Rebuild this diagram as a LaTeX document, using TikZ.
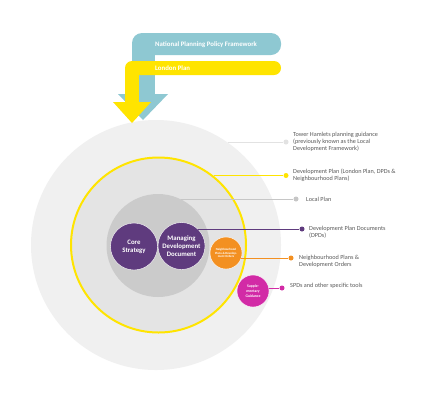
\documentclass[tikz,border=0pt]{standalone}
\usepackage{fontspec}
\setmainfont{Carlito}
\definecolor{npblue}{HTML}{8EC8D2}
\definecolor{lpyellow}{HTML}{FFE400}
\definecolor{outergrey}{HTML}{F0F0F0}
\definecolor{ringgrey}{HTML}{E4E4E4}
\definecolor{innergrey}{HTML}{CBCBCB}
\definecolor{lightline}{HTML}{E2E2E2}
\definecolor{midline}{HTML}{C6C6C6}
\definecolor{dpurple}{HTML}{5F3B7E}
\definecolor{norange}{HTML}{F39021}
\definecolor{smagenta}{HTML}{D22BA6}
\definecolor{txtgrey}{HTML}{595959}
\begin{document}
\begin{tikzpicture}[x=1pt,y=-1pt,
  blob/.style={circle,inner sep=0pt,outer sep=0pt},
  docdot/.style={circle,inner sep=0pt,minimum size=5pt,fill=#1},
  label/.style={anchor=west,align=left,text=txtgrey,font=\fontsize{6.2}{7.2}\selectfont,inner sep=0pt},
  intext/.style={text=white,align=center,font=\fontsize{6.8}{8}\selectfont\bfseries,inner sep=0pt},
  conn/.style={line width=0.9pt,draw=#1}]
\useasboundingbox (0,0) rectangle (435,400);
\fill[white] (0,0) rectangle (435,400);
% circles
\node[blob,fill=outergrey,minimum size=250pt] (outer) at (156,245) {};
\node[blob,fill=ringgrey,draw=lpyellow,line width=2pt,minimum size=175pt] (devplan) at (158.5,245) {};
\node[blob,fill=innergrey,minimum size=103pt] (localplan) at (158,245.5) {};
\node[blob,fill=dpurple,draw=white,line width=0.4pt,minimum size=47pt] (core) at (134,246.5) {};
\node[blob,fill=dpurple,draw=white,line width=0.4pt,minimum size=47pt] (mdd) at (181.5,246) {};
\node[intext] at (core) {Core\\Strategy};
\node[intext] at (mdd) {Managing\\Development\\Document};
\node[blob,fill=norange,draw=white,line width=0.4pt,minimum size=32pt] (nporb) at (226,253) {};
\node[intext,font=\fontsize{3.1}{3.8}\selectfont\bfseries] at (nporb) {Neighbourhood\\Plans \& Develop-\\ment Orders};
\node[blob,fill=smagenta,draw=white,line width=0.4pt,minimum size=32pt] (spdorb) at (253,291) {};
\node[intext,font=\fontsize{3.8}{5}\selectfont\bfseries] at (spdorb) {Supple-\\mentary\\Guidance};
% arrows from top
\fill[npblue,rounded corners=10pt] (132,33) rectangle (281,55);
\fill[npblue] (132,44) rectangle (155,95);
\fill[npblue] (118,94) -- (168,94) -- (143,120) -- cycle;
\node[anchor=west,text=white,font=\fontsize{6.8}{8}\selectfont\bfseries,inner sep=0pt] (nppf) at (155,45) {National Planning Policy Framework};
\fill[lpyellow,rounded corners=7pt] (125,61) rectangle (281,75);
\fill[lpyellow] (125,68) rectangle (139,103);
\fill[lpyellow] (113,102) -- (151,102) -- (132,123) -- cycle;
\node[anchor=west,text=white,font=\fontsize{6.8}{8}\selectfont\bfseries,inner sep=0pt] (lon) at (155,68) {London Plan};
% dots
\node[docdot=lightline] (d1) at (286,142) {};
\node[docdot=lpyellow] (d2) at (286,175.5) {};
\node[docdot=midline] (d3) at (296,199) {};
\node[docdot=dpurple] (d4) at (302,229) {};
\node[docdot=norange] (d5) at (291,258) {};
\node[docdot=smagenta] (d6) at (282,288) {};
% connectors
\draw[conn=lightline] (outer.55.5 |- d1) -- (d1);
\draw[conn=lpyellow] (devplan.51.5 |- d2) -- (d2);
\draw[conn=midline] (localplan.64.5 |- d3) -- (d3);
\draw[conn=dpurple] (mdd.46 |- d4) -- (d4);
\draw[conn=norange] (nporb.-18 |- d5) -- (d5);
\draw[conn=smagenta] (spdorb.11 |- d6) -- (d6);
% labels
\node[label] (t1) at (293,142) {Tower Hamlets planning guidance\\(previously known as the Local\\Development Framework)};
\node[label] (t2) at (293,175) {Development Plan (London Plan, DPDs \&\\Neighbourhood Plans)};
\node[label] (t3) at (306,199.5) {Local Plan};
\node[label] (t4) at (309,232.5) {Development Plan Documents\\(DPDs)};
\node[label] (t5) at (299,261.5) {Neighbourhood Plans \&\\Development Orders};
\node[label] (t6) at (290,285.5) {SPDs and other specific tools};
\end{tikzpicture}
\end{document}
